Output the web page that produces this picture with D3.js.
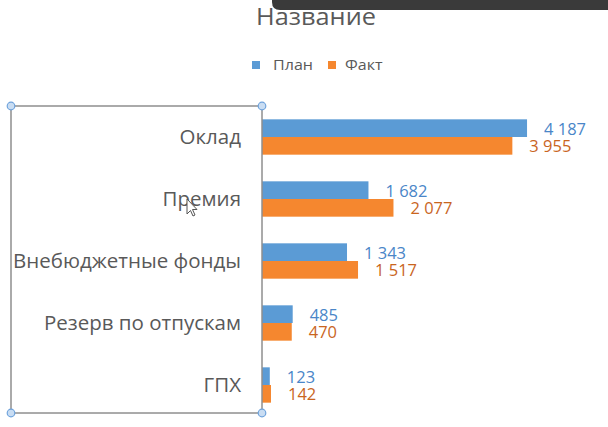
<!DOCTYPE html>
<html><head><meta charset="utf-8">
<script src="https://cdn.jsdelivr.net/npm/d3@7"></script>
<style>body{margin:0;background:#fff}svg{display:block}</style>
</head><body>
<script>
const categories = ["Оклад","Премия","Внебюджетные фонды","Резерв по отпускам","ГПХ"];
const seriesNames = ["План","Факт"];
const plan = [4187,1682,1343,485,123];
const fact = [3955,2077,1517,470,142];
const title = "Название";

const W=608,H=427;
const svg=d3.select("body").append("svg").attr("width",W).attr("height",H);
const font="'Open Sans', 'Noto Sans', sans-serif";
const colors=["#5B9BD5","#F5872F"];
const labelColors=["#4A86C8","#C9651E"];

// horizontal stretch factor so a sample string reaches a target width
function stretch(sample,size,target){
  const t=svg.append("text").attr("font-family",font).attr("font-size",size).text(sample);
  const w=t.node().getComputedTextLength(); t.remove();
  return target/w;
}
const sVal=stretch("4 187",17,42);
const sLeg=stretch("План",14,40);
const sTitle=stretch(title,24,120);

const y=d3.scaleBand().domain(categories).range([106,416]);
const ySub=d3.scaleBand().domain(seriesNames).range([y.bandwidth()*0.215,y.bandwidth()*0.785]);
const x=d3.scaleLinear().domain([0,5000]).range([262,578.5]);
const fmt=v=>d3.format(",")(v).replace(/,/g," ");

const series=[plan,fact];
series.forEach((vals,si)=>{
  const g=svg.append("g");
  g.selectAll("rect").data(vals).enter().append("rect")
    .attr("x",x(0)).attr("y",(d,i)=>y(categories[i])+ySub(seriesNames[si]))
    .attr("width",d=>x(d)-x(0)).attr("height",ySub.bandwidth())
    .attr("fill",colors[si]);
  g.selectAll("text").data(vals).enter().append("text")
    .attr("transform",(d,i)=>`translate(${x(d)+17},${y(categories[i])+ySub(seriesNames[si])+ySub.bandwidth()/2+6.5}) scale(${sVal},1)`)
    .attr("font-family",font).attr("font-size",17).attr("fill",labelColors[si])
    .text(fmt);
});

// category axis labels
const ax=svg.append("g").attr("transform","translate(262,0)")
  .call(d3.axisLeft(y).tickSize(0).tickPadding(21));
ax.select(".domain").remove();
ax.selectAll("text").attr("font-family",font).attr("font-size",20.5).attr("fill","#595959");

// selection box (axis selected in Excel)
svg.append("rect").attr("x",11).attr("y",106).attr("width",251).attr("height",307)
  .attr("fill","none").attr("stroke","#8f8f8f").attr("stroke-width",1.5);
[[11,106],[262,106],[11,413],[262,413]].forEach(p=>{
  svg.append("circle").attr("cx",p[0]).attr("cy",p[1]).attr("r",3.8)
    .attr("fill","#c9ddf3").attr("stroke","#6fa3dc").attr("stroke-width",1.2);
});

// title
svg.append("text").attr("transform",`translate(316,25) scale(${sTitle},1)`).attr("text-anchor","middle")
  .attr("font-family",font).attr("font-size",24).attr("fill","#595959").text(title);

// legend
const leg=[[252,273],[328,345]];
seriesNames.forEach((n,i)=>{
  svg.append("rect").attr("x",leg[i][0]).attr("y",61).attr("width",8).attr("height",8).attr("fill",colors[i]);
  svg.append("text").attr("transform",`translate(${leg[i][1]},70) scale(${sLeg},1)`).attr("font-family",font)
    .attr("font-size",14).attr("fill","#595959").text(n);
});

// dark overlay at top (screen element)
svg.append("path").attr("d","M272,0 H608 V10 H280 Q272,10 272,2 Z").attr("fill","#3a3a3a");

// mouse cursor
svg.append("path").attr("d","M187,199 L187,214 L190.5,210.5 L193,216 L195,215 L192.5,209.5 L197,209.5 Z")
  .attr("fill","#fff").attr("stroke","#555").attr("stroke-width",1);
</script>
</body></html>
